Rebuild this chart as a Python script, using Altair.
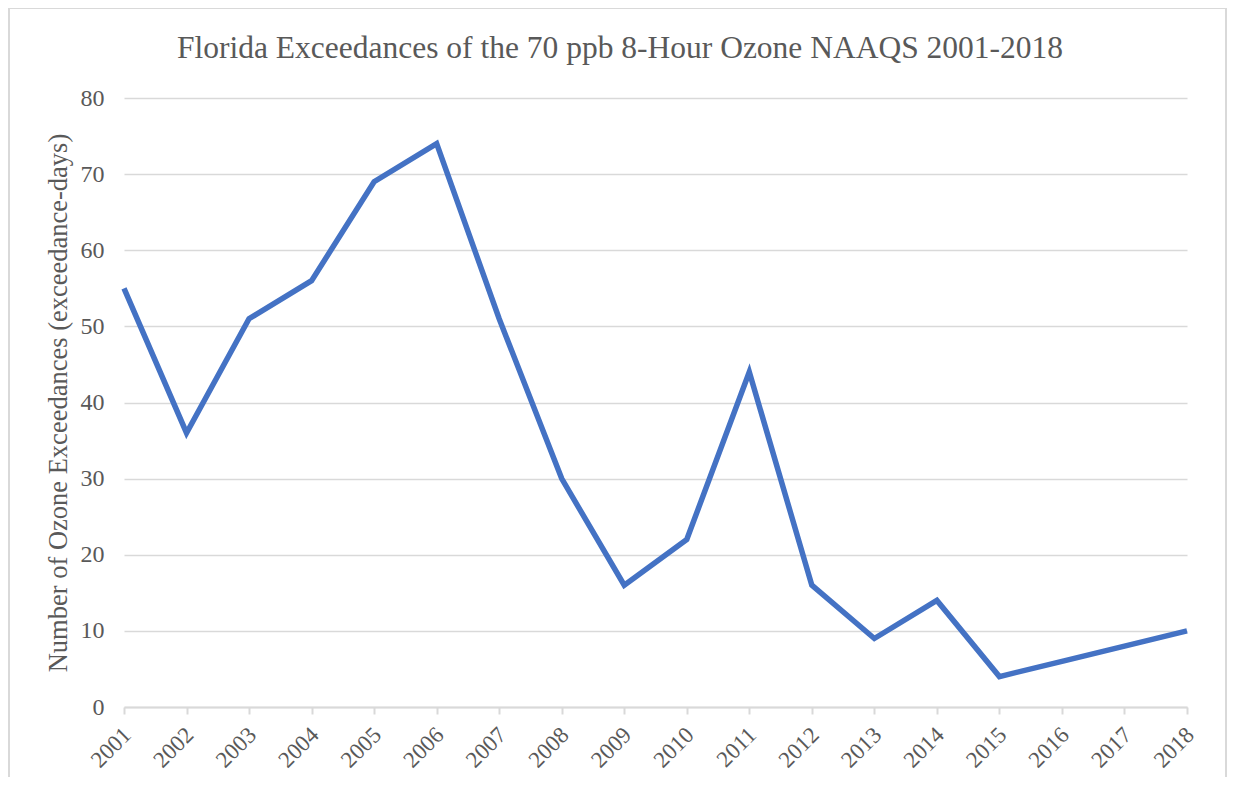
import altair as alt
import pandas as pd

years = [str(y) for y in range(2001, 2019)]
exceedances = [55, 36, 51, 56, 69, 74, 51, 30, 16, 22, 44, 16, 9, 14, 4, 6, 8, 10]
title_text = "Florida Exceedances of the 70 ppb 8-Hour Ozone NAAQS 2001-2018"

df = pd.DataFrame({"Year": years, "Exceedances": exceedances})

FONT = "Liberation Serif"
GRAY = "#595959"
GRID = "#d9d9d9"

border = alt.Chart(pd.DataFrame({"a": [0]})).mark_rect(
    fill=None, stroke=GRID, strokeWidth=2, clip=False
).encode(
    x=alt.value(-115), x2=alt.value(1102), y=alt.value(-90), y2=alt.value(800)
)

title = alt.Chart(pd.DataFrame({"t": [title_text]})).mark_text(
    font=FONT, fontSize=31.5, color=GRAY, align="center", baseline="alphabetic", clip=False
).encode(text="t:N", x=alt.value(496), y=alt.value(-40))

line = alt.Chart(df).mark_line(color="#4472C4", strokeWidth=5.5, strokeJoin="miter").encode(
    x=alt.X("Year:O", sort=years, scale=alt.Scale(type="point", padding=0),
            axis=alt.Axis(title=None, labelAngle=315, labelAlign="right",
                          labelBaseline="middle", labelPadding=17, labelOffset=3, labelFontSize=23,
                          tickSize=7, tickColor=GRID, domainColor=GRID,
                          domainWidth=2, tickWidth=2, grid=False)),
    y=alt.Y("Exceedances:Q", scale=alt.Scale(domain=[0, 80]),
            axis=alt.Axis(values=list(range(0, 81, 10)), title="Number of Ozone Exceedances (exceedance-days)",
                          titlePadding=8, ticks=False, domain=False, labelFontSize=24,
                          gridColor=GRID, gridWidth=1.5, labelPadding=20)),
)

chart = alt.layer(border, title, line).properties(
    width=1063, height=609,
    autosize=alt.AutoSizeParams(type="none"),
    padding={"left": 116, "top": 90, "right": 40, "bottom": 70},
).configure_view(stroke=None).configure_axis(
    labelFont=FONT, titleFont=FONT, titleFontSize=26.5,
    labelColor=GRAY, titleColor=GRAY, titleFontWeight="normal"
)

chart.save("out.html", embed_options={"renderer": "svg", "actions": False})
